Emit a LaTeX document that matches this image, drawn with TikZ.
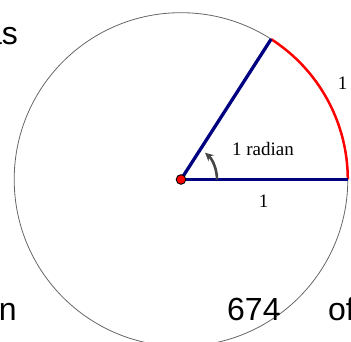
\documentclass[tikz,border=0pt]{standalone}
\usepackage{fontspec}
\setmainfont{Liberation Serif}
\newfontfamily\sansfont{Liberation Sans}
\usepackage{xcolor}
\usepackage{tikz}
\usetikzlibrary{calc,arrows}
\definecolor{radblue}{RGB}{0,0,128}
\definecolor{arrgray}{RGB}{70,70,70}

\begin{document}
\begin{tikzpicture}[x=1pt,y=1pt,>=stealth]
	\def\r{166.8}
	\def\rad{57.2958}
	\useasboundingbox (-181,-162.5) rectangle (170,179.5);
	
	\coordinate (O) at (0,0);
	\coordinate (A) at (\r,0);
	\coordinate (B) at (\rad:\r);
	
	\draw[black!60,line width=0.8pt] (O) circle (\r);
	\draw[red,line width=2.5pt] (A) arc (0:\rad:\r);
	
	\draw[radblue,line width=3.3pt] (O)--(A);
	\draw[radblue,line width=3.3pt] (O)--(B);
	
	\draw[arrgray,line width=2.6pt,->] ($(O)+(36,0)$) arc (0:48:36);
	\draw[fill=red,line width=0.9pt] (O) circle (4.8);
	
	\node[inner sep=0,anchor=base,font=\fontsize{19}{22}\selectfont] (lrad) at (82,23.5) {1 radian};
	\node[inner sep=0,font=\fontsize{19}{22}\selectfont] (larc) at (161.5,96) {1};
	\node[inner sep=0,font=\fontsize{19}{22}\selectfont] (lrad1) at (82.5,-22) {1};
	
	\node[inner sep=0,anchor=base east,font=\sansfont\fontsize{32}{36}\selectfont] (tas) at (-163,134.5) {as};
	\node[inner sep=0,anchor=base east,font=\sansfont\fontsize{32}{36}\selectfont] (ton) at (-164,-141.5) {on};
	\node[inner sep=0,anchor=base west,font=\sansfont\fontsize{32}{36}\selectfont] (tnum) at (46,-141.5) {674};
	\node[inner sep=0,anchor=base west,font=\sansfont\fontsize{32}{36}\selectfont] (tof) at (147,-141.5) {of};
\end{tikzpicture}
\end{document}
